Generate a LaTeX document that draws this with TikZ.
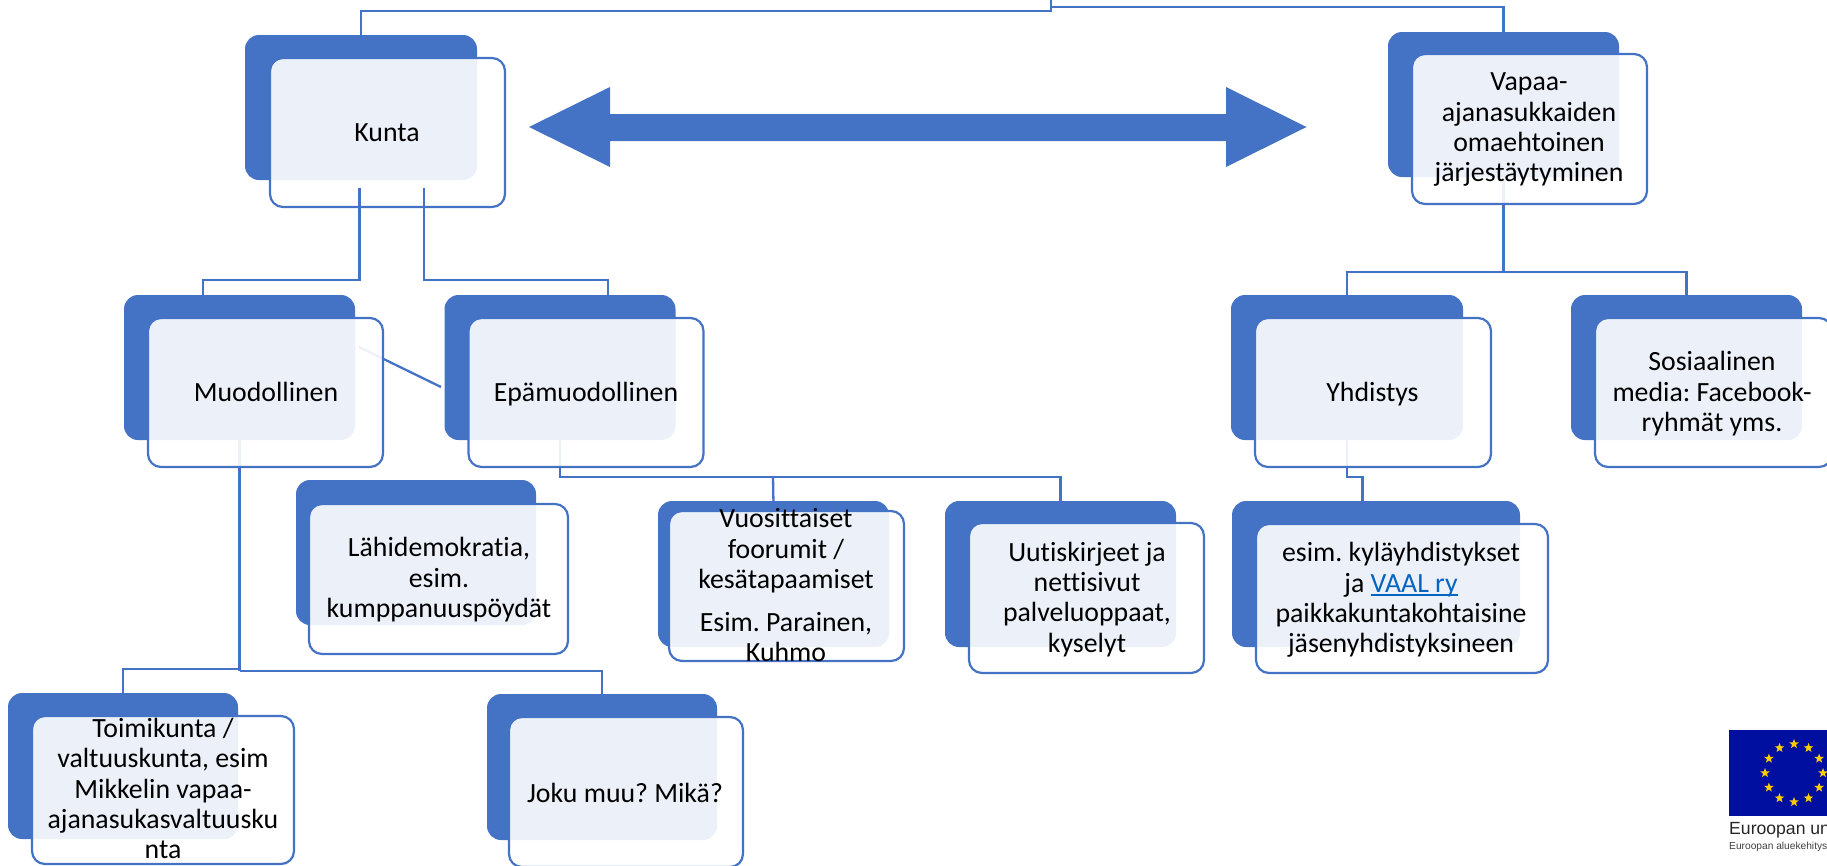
\documentclass[tikz,border=0pt]{standalone}
\usepackage{fontspec}
\setmainfont[Ligatures=NoCommon]{Carlito}
\newfontfamily\eufont{Liberation Sans}
\usetikzlibrary{shapes.geometric}
\definecolor{sablue}{HTML}{4472C4}
\definecolor{linkblue}{HTML}{0563C1}
\definecolor{euflag}{HTML}{000F9F}
\definecolor{eustar}{HTML}{FFCC00}
\newcommand{\linkline}[1]{\setbox0\hbox{#1}\rlap{\rule[-3.5pt]{\wd0}{1.3pt}}\box0}
\newcommand{\dk}[5]{\node[darkbox,minimum width={(#4-#2)*1pt},minimum height={(#5-#3)*1pt}] (#1) at ({(#2+#4)/2},{(#3+#5)/2}) {};}
\newcommand{\lt}[5]{\node[lightbox,minimum width={(#4-#2)*1pt},minimum height={(#5-#3)*1pt}] (#1) at ({(#2+#4)/2},{(#3+#5)/2}) {};}
\tikzset{
  darkbox/.style={rectangle,rounded corners=14pt,fill=sablue,inner sep=0pt,outer sep=0pt},
  lightbox/.style={rectangle,rounded corners=13pt,draw=sablue,line width=2.2pt,fill=white,fill opacity=.9,inner sep=0pt,outer sep=0pt},
  conn/.style={draw=sablue,line width=2.3pt,line join=miter},
  lbl/.style={font=\fontsize{27.8}{30.3}\selectfont\frenchspacing,align=center,inner sep=0pt,text=black,
    execute at begin node={\rule{0pt}{26pt}},execute at end node={\rule[-6pt]{0pt}{6pt}}},
}
\begin{document}
\begin{tikzpicture}[x=1pt,y=-1pt]
\useasboundingbox (0,0) rectangle (1827,865);
% dark back plates
\dk{kuntaD}{245}{35}{477}{180}
\dk{vapaaD}{1388}{32}{1619}{177}
\dk{muoD}{124}{295}{355}{440}
\dk{epaD}{444.5}{295}{675.5}{440}
\dk{yhdD}{1231}{295}{1463}{440}
\dk{someD}{1571}{295}{1802}{440}
\dk{lahiD}{296}{480}{536}{625}
\dk{vuoD}{658}{501}{889}{647}
\dk{uutD}{945}{501}{1176}{647}
\dk{esimD}{1232}{501}{1520}{647}
\dk{toiD}{8}{693}{238}{839}
\dk{jokuD}{487}{694}{717}{840}
% connector free ends and elbows
\coordinate (topIn) at (1051,0);
\coordinate (topL) at (1051,11);
\coordinate (topR) at (1051,7);
\coordinate (diagA) at (359,347);
\coordinate (diagB) at (441,387);
\coordinate (muoJL) at (239.5,669);
\coordinate (muoJR) at (239.5,671);
\coordinate (epaJ) at (560,477);
\coordinate (epaM) at (773,477);
\coordinate (vapJ) at (1503.5,272);
\coordinate (yhdJ) at (1347,477);
% connectors under the light plates
\draw[conn] (topIn) -- (topL) -| ([yshift=-4pt]kuntaD.north);
\draw[conn] (topR) -| ([yshift=-4pt]vapaaD.north);
\draw[conn] (diagA) -- (diagB);
\draw[conn] ([yshift=4pt]muoD.south) -- (muoJR);
\draw[conn] (muoJL) -| ([yshift=-4pt]toiD.north);
\draw[conn] (muoJR) -| ([yshift=-3pt]jokuD.north);
\draw[conn] ([yshift=4pt]epaD.south) -- (epaJ) -| ([yshift=-4pt]uutD.north);
\draw[conn] (epaM) -- ([yshift=-4pt]vuoD.north);
\draw[conn] ([yshift=4pt]vapaaD.south) -- (vapJ);
\draw[conn] (vapJ) -| ([yshift=-4pt]yhdD.north);
\draw[conn] (vapJ) -| ([yshift=-4pt]someD.north);
\draw[conn] ([yshift=4pt]yhdD.south) -- (yhdJ) -| ([xshift=-13.5pt,yshift=-4pt]esimD.north);
% light plates
\lt{kuntaL}{270}{58}{505}{207}
\lt{vapaaL}{1412}{54}{1647}{204}
\lt{muoL}{148}{318}{383}{467}
\lt{epaL}{468.5}{318}{703.5}{467}
\lt{yhdL}{1255}{318}{1491}{467}
\lt{someL}{1595}{318}{1832}{467}
\lt{lahiL}{309}{504}{568}{654}
\lt{vuoL}{669}{511}{904}{661}
\lt{uutL}{969}{523}{1204}{673}
\lt{esimL}{1256}{524}{1548}{673}
\lt{toiL}{32}{716}{294}{864}
\lt{jokuL}{509}{717}{743}{867}
% Kunta's connectors run over its plate
\draw[conn] (359.5,188) |- (203,280) -- ([xshift=-36.5pt]muoD.north);
\draw[conn] (424,188) |- (608,280) -- ([xshift=48pt]epaD.north);
% double arrow
\fill[sablue] (529,127) -- (610,87) -- (610,114) -- (1226,114) -- (1226,87) -- (1306.5,127) -- (1226,167) -- (1226,141) -- (610,141) -- (610,167) -- cycle;
% labels
\node[lbl] (tKunta) at (387,131) {Kunta};
\node[lbl] (tVapaa) at (1529,130.5) {Vapaa-\\ajanasukkaiden\\omaehtoinen\\järjestäytyminen};
\node[lbl] (tMuo) at (266,391) {Muodollinen};
\node[lbl] (tEpa) at (586,391) {Epämuodollinen};
\node[lbl] (tYhd) at (1372.5,391) {Yhdistys};
\node[lbl] (tSome) at (1712,394.5) {Sosiaalinen\\media: Facebook-\\ryhmät yms.};
\node[lbl] (tLahi) at (439,580.5) {Lähidemokratia,\\esim.\\kumppanuuspöydät};
\node[lbl] (tVuo1) at (786,551.5) {Vuosittaiset\\foorumit /\\kesätapaamiset};
\node[lbl] (tVuo2) at (786,640) {Esim. Parainen,\\Kuhmo};
\node[lbl] (tUut) at (1087,600) {Uutiskirjeet ja\\nettisivut\\palveluoppaat,\\kyselyt};
\node[lbl] (tEsim) at (1401,600.5) {esim. kyläyhdistykset\\ja {\color{linkblue}\linkline{VAAL ry}}\\paikkakuntakohtaisine\\jäsenyhdistyksineen};
\node[lbl] (tToi) at (163,791.5) {Toimikunta /\\valtuuskunta, esim\\Mikkelin vapaa-\\ajanasukasvaltuusku\\nta};
\node[lbl] (tJoku) at (625,792) {Joku muu? Mikä?};
% EU emblem
\node[rectangle,fill=euflag,minimum width=110pt,minimum height=86pt,inner sep=0pt,outer sep=0pt,anchor=north west] (euFlag) at (1729,730) {};
\foreach \a in {0,30,...,330}
  \node[star,star points=5,star point ratio=2.4,fill=eustar,minimum size=10pt,inner sep=0pt] (s\a) at ({1794+29*cos(\a)},{773+29*sin(\a)}) {};
\node[font=\eufont\fontsize{17.6}{20}\selectfont,text=black!85,anchor=base west,inner sep=0pt] (euName) at (1729,834) {Euroopan unioni};
\node[font=\eufont\fontsize{10.2}{12}\selectfont,text=black!75,anchor=base west,inner sep=0pt] (euFund) at (1729,849) {Euroopan aluekehitysrahasto};
\end{tikzpicture}
\end{document}
